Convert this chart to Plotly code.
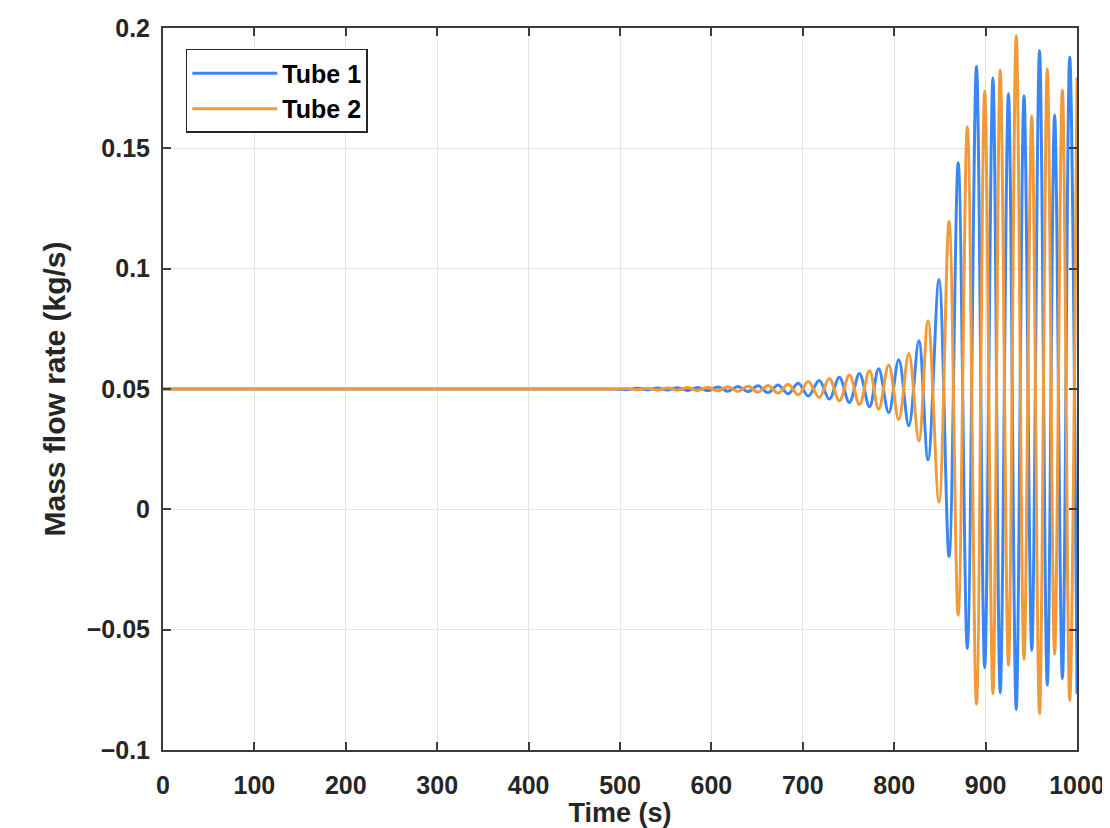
import plotly.graph_objects as go

# Extremum times (s)
time_s = [0, 490, 508, 519, 530, 541, 552, 563, 574, 585, 596, 607, 618, 629, 640,
          651, 662, 673, 684, 695, 706, 718, 729, 740, 751, 762, 773, 783, 794, 805,
          816, 827, 837, 849, 860, 870, 880, 890, 899, 908, 916, 925, 933.5, 942,
          950.5, 959, 967.5, 975.5, 984, 992, 1000]

tube1 = [0.05, 0.05, 0.0498, 0.0503, 0.0497, 0.0504, 0.0496, 0.0505, 0.0494, 0.0506,
         0.0493, 0.0508, 0.0491, 0.0510, 0.0489, 0.0513, 0.0485, 0.0517, 0.0480,
         0.0524, 0.0471, 0.0535, 0.0458, 0.0549, 0.0444, 0.0564, 0.0426, 0.0584,
         0.0402, 0.0622, 0.0347, 0.0700, 0.0206, 0.0955, -0.0196, 0.1440, -0.0578,
         0.1841, -0.0658, 0.1792, -0.0763, 0.1727, -0.0832, 0.1718, -0.0586, 0.1906,
         -0.0731, 0.1638, -0.0704, 0.1878, -0.0766]

tube2 = [0.05, 0.05, 0.0502, 0.0497, 0.0503, 0.0496, 0.0504, 0.0495, 0.0506, 0.0494,
         0.0507, 0.0492, 0.0509, 0.0490, 0.0511, 0.0487, 0.0515, 0.0483, 0.0520,
         0.0476, 0.0531, 0.0465, 0.0544, 0.0451, 0.0558, 0.0436, 0.0576, 0.0416,
         0.0600, 0.0373, 0.0647, 0.0284, 0.0784, 0.0030, 0.1196, -0.0440, 0.1590,
         -0.0810, 0.1738, -0.0766, 0.1825, -0.0648, 0.1968, -0.0623, 0.1634, -0.0849,
         0.1830, -0.0602, 0.1742, -0.0794, 0.1794]

x_ticks = [0, 100, 200, 300, 400, 500, 600, 700, 800, 900, 1000]
x_tick_labels = ["0", "100", "200", "300", "400", "500", "600", "700", "800", "900", "1000"]
y_ticks = [-0.1, -0.05, 0, 0.05, 0.1, 0.15, 0.2]
y_tick_labels = ["\u22120.1", "\u22120.05", "0", "0.05", "0.1", "0.15", "0.2"]

FONT = "Liberation Sans, Arial, sans-serif"
TXT = "#262626"

fig = go.Figure()
fig.add_trace(go.Scatter(x=time_s, y=tube1, name="Tube 1", mode="lines",
                         line=dict(color="#3A86F4", width=3, shape="spline", smoothing=1)))
fig.add_trace(go.Scatter(x=time_s, y=tube2, name="Tube 2", mode="lines",
                         line=dict(color="#F29A3A", width=3, shape="spline", smoothing=1)))

axis_common = dict(
    showline=True, linecolor="#3C3C3C", linewidth=2, mirror="ticks",
    ticks="inside", ticklen=8, tickwidth=1.5, tickcolor="#3C3C3C",
    showgrid=True, gridcolor="#E3E3E3", gridwidth=1, zeroline=False,
    tickfont=dict(family=FONT, size=25, color=TXT, weight="bold"),
)

fig.update_xaxes(range=[0, 1000], tickvals=x_ticks, ticktext=x_tick_labels,
                 ticklabelstandoff=12,
                 title=dict(text="Time (s)", font=dict(family=FONT, size=27, color=TXT, weight="bold"),
                            standoff=14),
                 **axis_common)
fig.update_yaxes(range=[-0.1, 0.2], tickvals=y_ticks, ticktext=y_tick_labels,
                 ticklabelstandoff=6,
                 title=dict(text="Mass flow rate (kg/s)", font=dict(family=FONT, size=30, color=TXT, weight="bold"),
                            standoff=12),
                 **axis_common)

fig.update_layout(
    width=1102, height=820,
    margin=dict(l=155, r=33, t=20, b=78, autoexpand=False),
    plot_bgcolor="white", paper_bgcolor="white",
    showlegend=True,
    legend=dict(x=0.025, y=0.971, xanchor="left", yanchor="top",
                bgcolor="white", bordercolor="#262626", borderwidth=1.5,
                font=dict(family=FONT, size=25, color="black", weight="bold"),
                itemwidth=85, tracegroupgap=0),
)

fig.write_html("out.html")
